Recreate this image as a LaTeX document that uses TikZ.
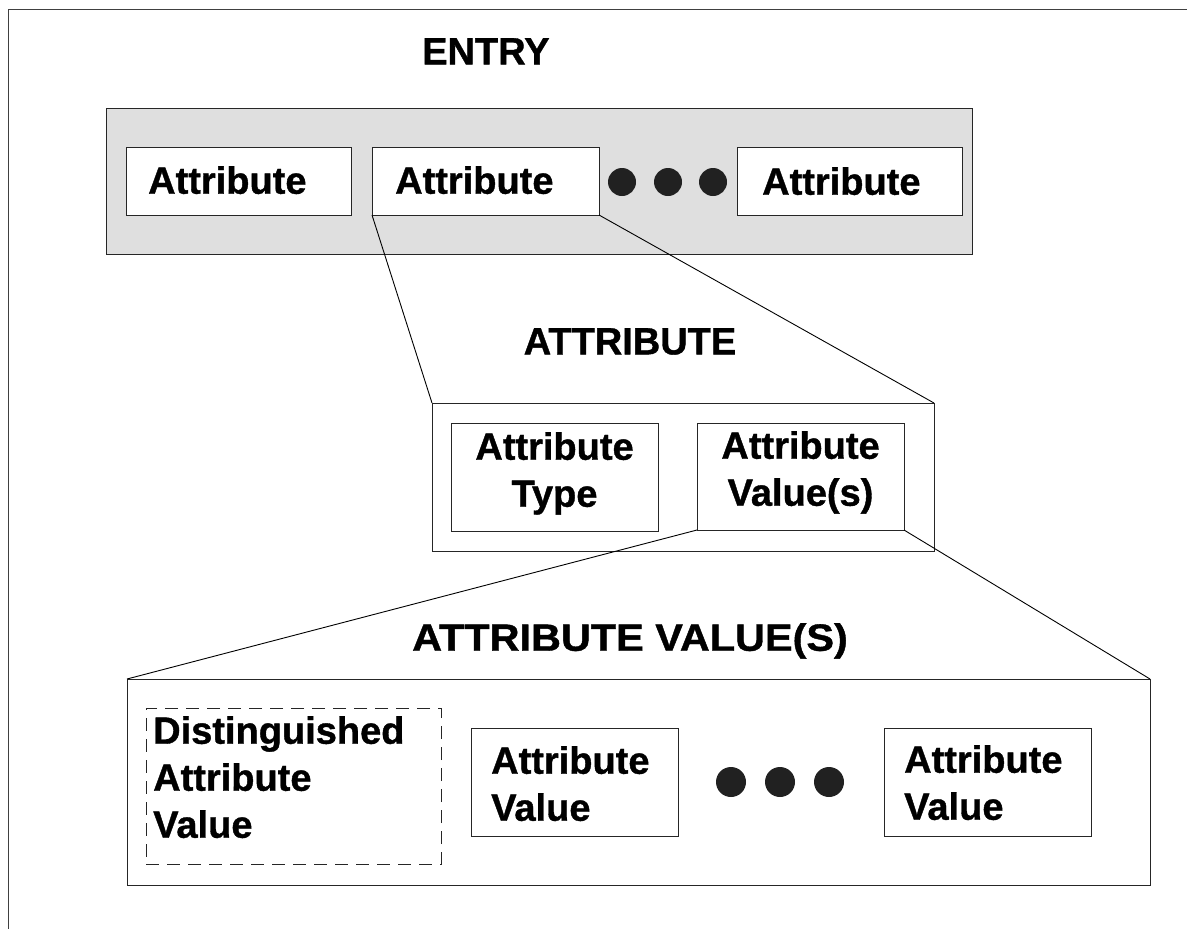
\documentclass[tikz,border=0pt]{standalone}
\usepackage{fontspec}
\setmainfont{Liberation Sans}[BoldFeatures={FakeBold=1}]
\begin{document}
\begin{tikzpicture}[x=1pt,y=-1pt,
  frame/.style={draw=black!75,line width=1pt},
  box/.style={rectangle,draw=black!85,line width=1pt,fill=white,inner sep=0pt,outer sep=0pt},
  graybox/.style={box,fill=gray!25},
  dashbox/.style={box,dash pattern=on 13pt off 8pt},
  lbl/.style={font=\bfseries\fontsize{38}{47}\selectfont,inner sep=0pt,anchor=north west,align=left},
  clbl/.style={lbl,anchor=north,align=center},
  bigdot/.style={circle,fill=black!87,draw=none,inner sep=0pt,minimum size=28pt},
  link/.style={draw=black,line width=0.9pt}]
\useasboundingbox (0,0) rectangle (1187,929);
% outer frame (top and left edges visible)
\draw[frame] (1187,9) -- (8,9) -- (8,929);

% ENTRY
\node[lbl] (entrylbl) at (422,38) {ENTRY};
\node[graybox,minimum width=866pt,minimum height=146pt] (entry) at (539,181) {};
\node[box,minimum width=225pt,minimum height=68pt] (a1) at (238.5,181) {};
\node[box,minimum width=227pt,minimum height=68pt] (a2) at (485.5,181) {};
\node[box,minimum width=225pt,minimum height=68pt] (a3) at (849.5,181) {};
\node[lbl] (a1t) at (148,166) {Attribute};
\node[lbl] (a2t) at (395,166) {Attribute};
\node[lbl] (a3t) at (762,167) {Attribute};
\node[bigdot] (d1) at (622,182) {};
\node[bigdot] (d2) at (668,182) {};
\node[bigdot] (d3) at (713,182) {};

% ATTRIBUTE
\node[clbl] (attrlbl) at (630,328) {ATTRIBUTE};
\node[box,minimum width=502pt,minimum height=148pt] (mid) at (683,477) {};
\node[box,minimum width=207pt,minimum height=108pt] (type) at (554.5,477) {};
\node[box,minimum width=207pt,minimum height=107pt] (vals) at (800.5,476.5) {};
\node[clbl] (typet) at (554.5,432) {Attribute\\Type};
\node[clbl] (valst) at (800.5,431) {Attribute\\Value(s)};

% ATTRIBUTE VALUE(S)
\node[clbl] (avlbl) at (630,623) {\scalebox{1.09}[1]{ATTRIBUTE VALUE(S)}};
\node[box,minimum width=1023pt,minimum height=206pt] (bot) at (638.5,782) {};
\node[dashbox,minimum width=295pt,minimum height=156pt] (dist) at (293.5,786) {};
\node[box,minimum width=207pt,minimum height=108pt] (av2) at (574.5,782) {};
\node[box,minimum width=207pt,minimum height=108pt] (av3) at (987.5,782) {};
\node[lbl] (distt) at (153,716) {Distinguished\\Attribute\\Value};
\node[lbl] (av2t) at (491,746) {Attribute\\Value};
\node[lbl] (av3t) at (904,745) {Attribute\\Value};
\node[bigdot,minimum size=30pt] (e1) at (731,782) {};
\node[bigdot,minimum size=30pt] (e2) at (780,782) {};
\node[bigdot,minimum size=30pt] (e3) at (829,782) {};

% connectors
\draw[link] (a2.south west) -- (mid.north west);
\draw[link] (a2.south east) -- (mid.north east);
\draw[link] (vals.south west) -- (bot.north west);
\draw[link] (vals.south east) -- (bot.north east);
\end{tikzpicture}
\end{document}
